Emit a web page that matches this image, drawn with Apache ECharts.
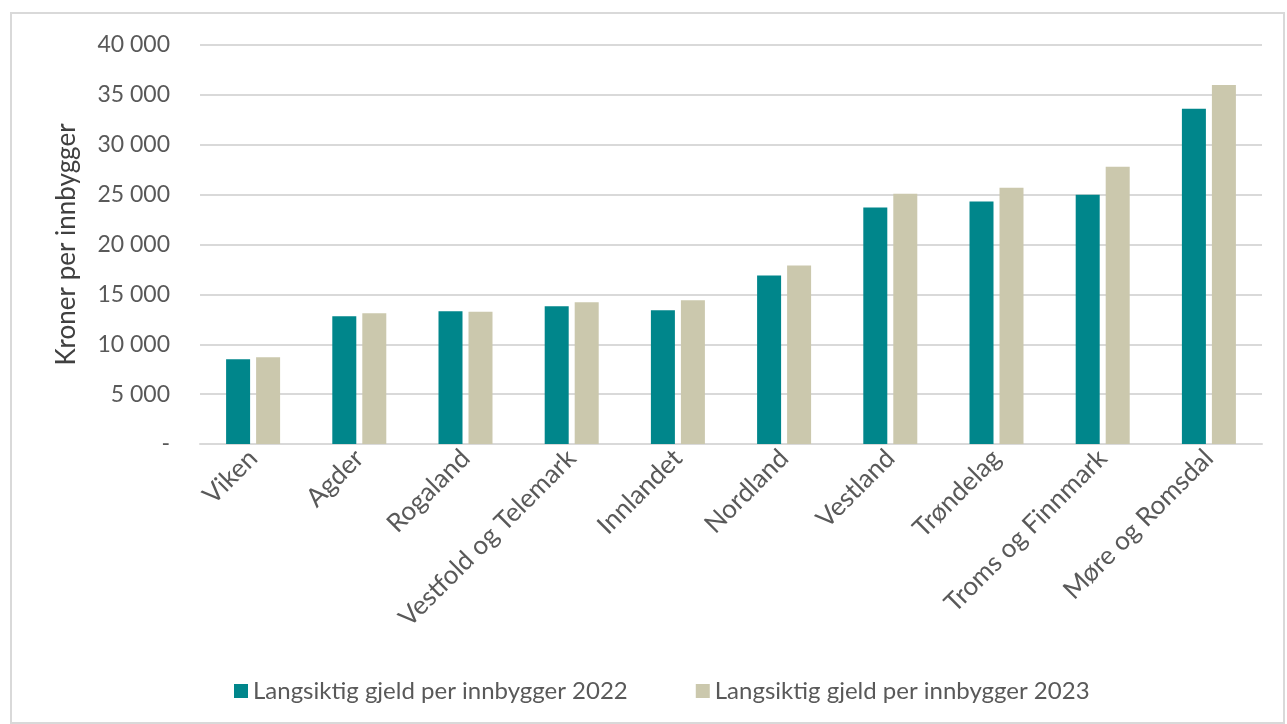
<!DOCTYPE html>
<html><head><meta charset="utf-8">
<script src="https://cdn.jsdelivr.net/npm/echarts@6/dist/echarts.min.js"></script>
<style>
html,body{margin:0;padding:0;background:#fff;}
#frame{position:absolute;left:10px;top:12px;width:1275px;height:712px;border:2px solid #d9d9d9;box-sizing:border-box;}
#c{position:absolute;left:0;top:0;width:1287px;height:724px;}
</style></head><body>
<div id="frame"></div>
<div id="c"></div>
<script>
const categories = ["Viken","Agder","Rogaland","Vestfold og Telemark","Innlandet","Nordland","Vestland","Trøndelag","Troms og Finnmark","Møre og Romsdal"];
const seriesNames = ["Langsiktig gjeld per innbygger 2022","Langsiktig gjeld per innbygger 2023"];
const values2022 = [8500,12800,13300,13800,13400,16900,23700,24300,25000,33600];
const values2023 = [8700,13100,13250,14200,14400,17900,25100,25700,27800,36000];
const yAxisName = "Kroner per innbygger";
const colors = ["#00868B","#CBC8AD"];
const font = "Lato, 'Open Sans', sans-serif";
const textColor = "#595959";

const chart = echarts.init(document.getElementById('c'));
chart.setOption({
  animation:false,
  textStyle:{fontFamily:font},
  grid:{left:200,right:25,top:45,bottom:280,containLabel:false},
  legend:{
    top:674,left:229,itemWidth:14,itemHeight:14,itemGap:68,icon:'rect',
    textStyle:{fontSize:24,color:textColor,fontFamily:font},
    data:seriesNames
  },
  xAxis:{
    type:'category',data:categories,
    axisLine:{lineStyle:{color:'#d9d9d9',width:2}},
    axisTick:{show:false},
    axisLabel:{rotate:45,fontSize:26,color:textColor,margin:10,interval:0,fontFamily:font}
  },
  yAxis:{
    type:'value',min:0,max:40000,interval:5000,
    name:yAxisName,nameLocation:'middle',nameGap:120,nameRotate:90,
    nameTextStyle:{fontSize:26,color:'#404040',fontFamily:font},
    splitLine:{lineStyle:{color:'#d9d9d9',width:2}},
    axisLine:{show:false},axisTick:{show:false},
    axisLabel:{fontSize:23,color:textColor,margin:30,fontFamily:font,
      formatter:v=> v===0 ? '-' : String(v).replace(/\B(?=(\d{3})+(?!\d))/g,' ')}
  },
  series:[
    {name:seriesNames[0],type:'bar',data:values2022,itemStyle:{color:colors[0]},barWidth:24,barGap:'25%'},
    {name:seriesNames[1],type:'bar',data:values2023,itemStyle:{color:colors[1]},barWidth:24,barGap:'25%'}
  ]
});
</script>
</body></html>
